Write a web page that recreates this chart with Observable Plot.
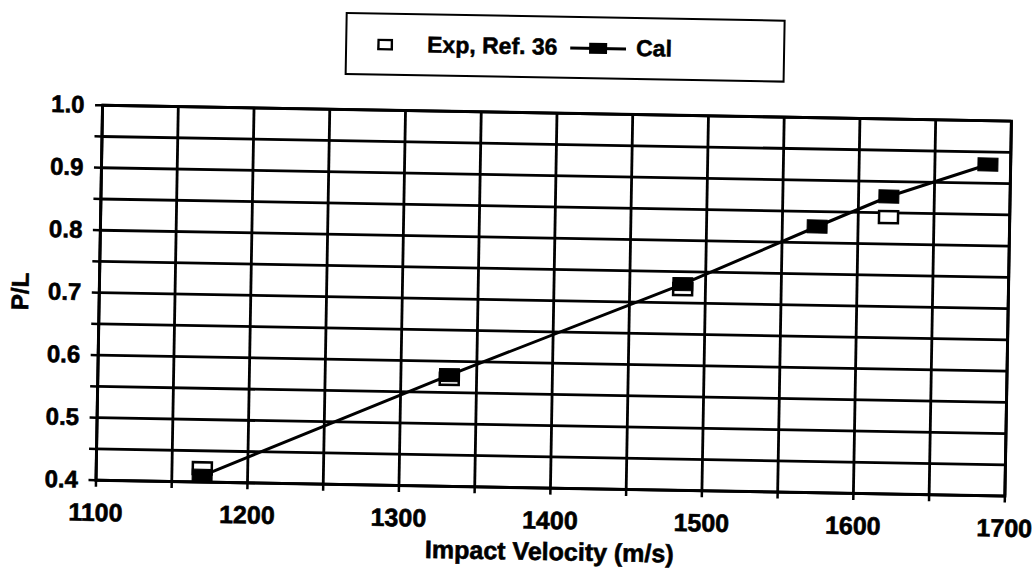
<!DOCTYPE html>
<html><head><meta charset="utf-8">
<script src="https://cdn.jsdelivr.net/npm/d3@7"></script>
<script src="https://cdn.jsdelivr.net/npm/@observablehq/plot@0.6"></script>
<style>
html,body{margin:0;padding:0;background:#fff;overflow:hidden}
#wrap{position:relative;width:1033px;height:568px;transform:rotate(1deg);transform-origin:516px 284px;font-family:"Liberation Sans",Arial,sans-serif;font-weight:700;color:#000;background:#fff}
#legend{position:relative;height:96px}
#legbox{position:absolute;left:341px;top:15px;width:436px;height:59px;border:2.5px solid #000}
.li{position:absolute;top:0;height:59px;display:flex;align-items:center;font-size:23px;white-space:nowrap;-webkit-text-stroke:0.5px #000}
svg text{stroke:#000;stroke-width:0.6px}
</style></head>
<body><div id="wrap"><div id="legend"><div id="legbox"></div></div><div id="chart"></div></div>
<script>
// Data
const velCal = [1170, 1332, 1485, 1573, 1620, 1685];
const plCal  = [0.41, 0.578, 0.73, 0.826, 0.876, 0.93];
const velExp = [1170, 1332, 1485, 1620];
const plExp  = [0.422, 0.572, 0.722, 0.843];
const xTicks = [1100, 1200, 1300, 1400, 1500, 1600, 1700];
const yTicks = [0.4, 0.5, 0.6, 0.7, 0.8, 0.9, 1.0];
const xGrid = [1100,1150,1200,1250,1300,1350,1400,1450,1500,1550,1600,1650,1700];
const yGrid = [0.4,0.45,0.5,0.55,0.6,0.65,0.7,0.75,0.8,0.85,0.9,0.95,1.0];
const seriesNames = ["Exp, Ref. 36", "Cal"];

const cal = velCal.map((v, i) => ({v, pl: plCal[i]}));
const exp = velExp.map((v, i) => ({v, pl: plExp[i]}));
const rectSym = (w, h) => ({draw(ctx) { ctx.rect(-w / 2, -h / 2, w, h); }});

// legend
const box = document.getElementById("legbox");
box.innerHTML = `
 <div class="li" style="left:30px"><svg width="16" height="12"><rect x="1.25" y="1.25" width="13.5" height="9.5" fill="#fff" stroke="#000" stroke-width="2.5"/></svg></div>
 <div class="li" style="left:80px">${seriesNames[0]}</div>
 <div class="li" style="left:223px"><svg width="56" height="14"><line x1="0" y1="7" x2="56" y2="7" stroke="#000" stroke-width="3"/><rect x="19" y="1.5" width="18" height="11" fill="#000"/></svg></div>
 <div class="li" style="left:289px">${seriesNames[1]}</div>`;

const chart = Plot.plot({
  width: 1033, height: 472,
  marginTop: 16, marginBottom: 81, marginLeft: 99, marginRight: 25,
  style: {fontFamily: "Liberation Sans, Arial, sans-serif", fontWeight: 700, color: "#000", background: "#fff", overflow: "visible"},
  x: {domain: [1100, 1700], label: null},
  y: {domain: [0.4, 1.0], label: null},
  marks: [
    Plot.gridX(xGrid, {stroke: "#000", strokeOpacity: 1, strokeWidth: 2.8}),
    Plot.gridY(yGrid, {stroke: "#000", strokeOpacity: 1, strokeWidth: 2.8}),
    Plot.frame({stroke: "#000", strokeWidth: 3}),
    Plot.axisX(xGrid, {tickSize: 7, tickFormat: () => "", strokeWidth: 2.5, label: null}),
    Plot.axisX(xTicks, {tickSize: 0, tickPadding: 23, fontSize: 25, tickFormat: d3.format("d"), label: "Impact Velocity (m/s)", labelAnchor: "center", labelOffset: 72, labelArrow: "none"}),
    Plot.axisY(yGrid, {tickSize: 7, tickFormat: () => "", strokeWidth: 2.5, label: null}),
    Plot.axisY(yTicks, {tickSize: 0, tickPadding: 18, fontSize: 24, tickFormat: d3.format(".1f"), label: "P/L", labelAnchor: "center", labelOffset: 88, labelArrow: "none"}),
    Plot.dot(exp, {x: "v", y: "pl", symbol: rectSym(19, 12), fill: "#fff", stroke: "#000", strokeWidth: 2.5}),
    Plot.line(cal, {x: "v", y: "pl", stroke: "#000", strokeWidth: 3}),
    Plot.dot(cal, {x: "v", y: "pl", symbol: rectSym(20, 13), fill: "#000", stroke: "#000", strokeWidth: 1})
  ]
});
document.getElementById("chart").appendChild(chart);
</script>
</body></html>
